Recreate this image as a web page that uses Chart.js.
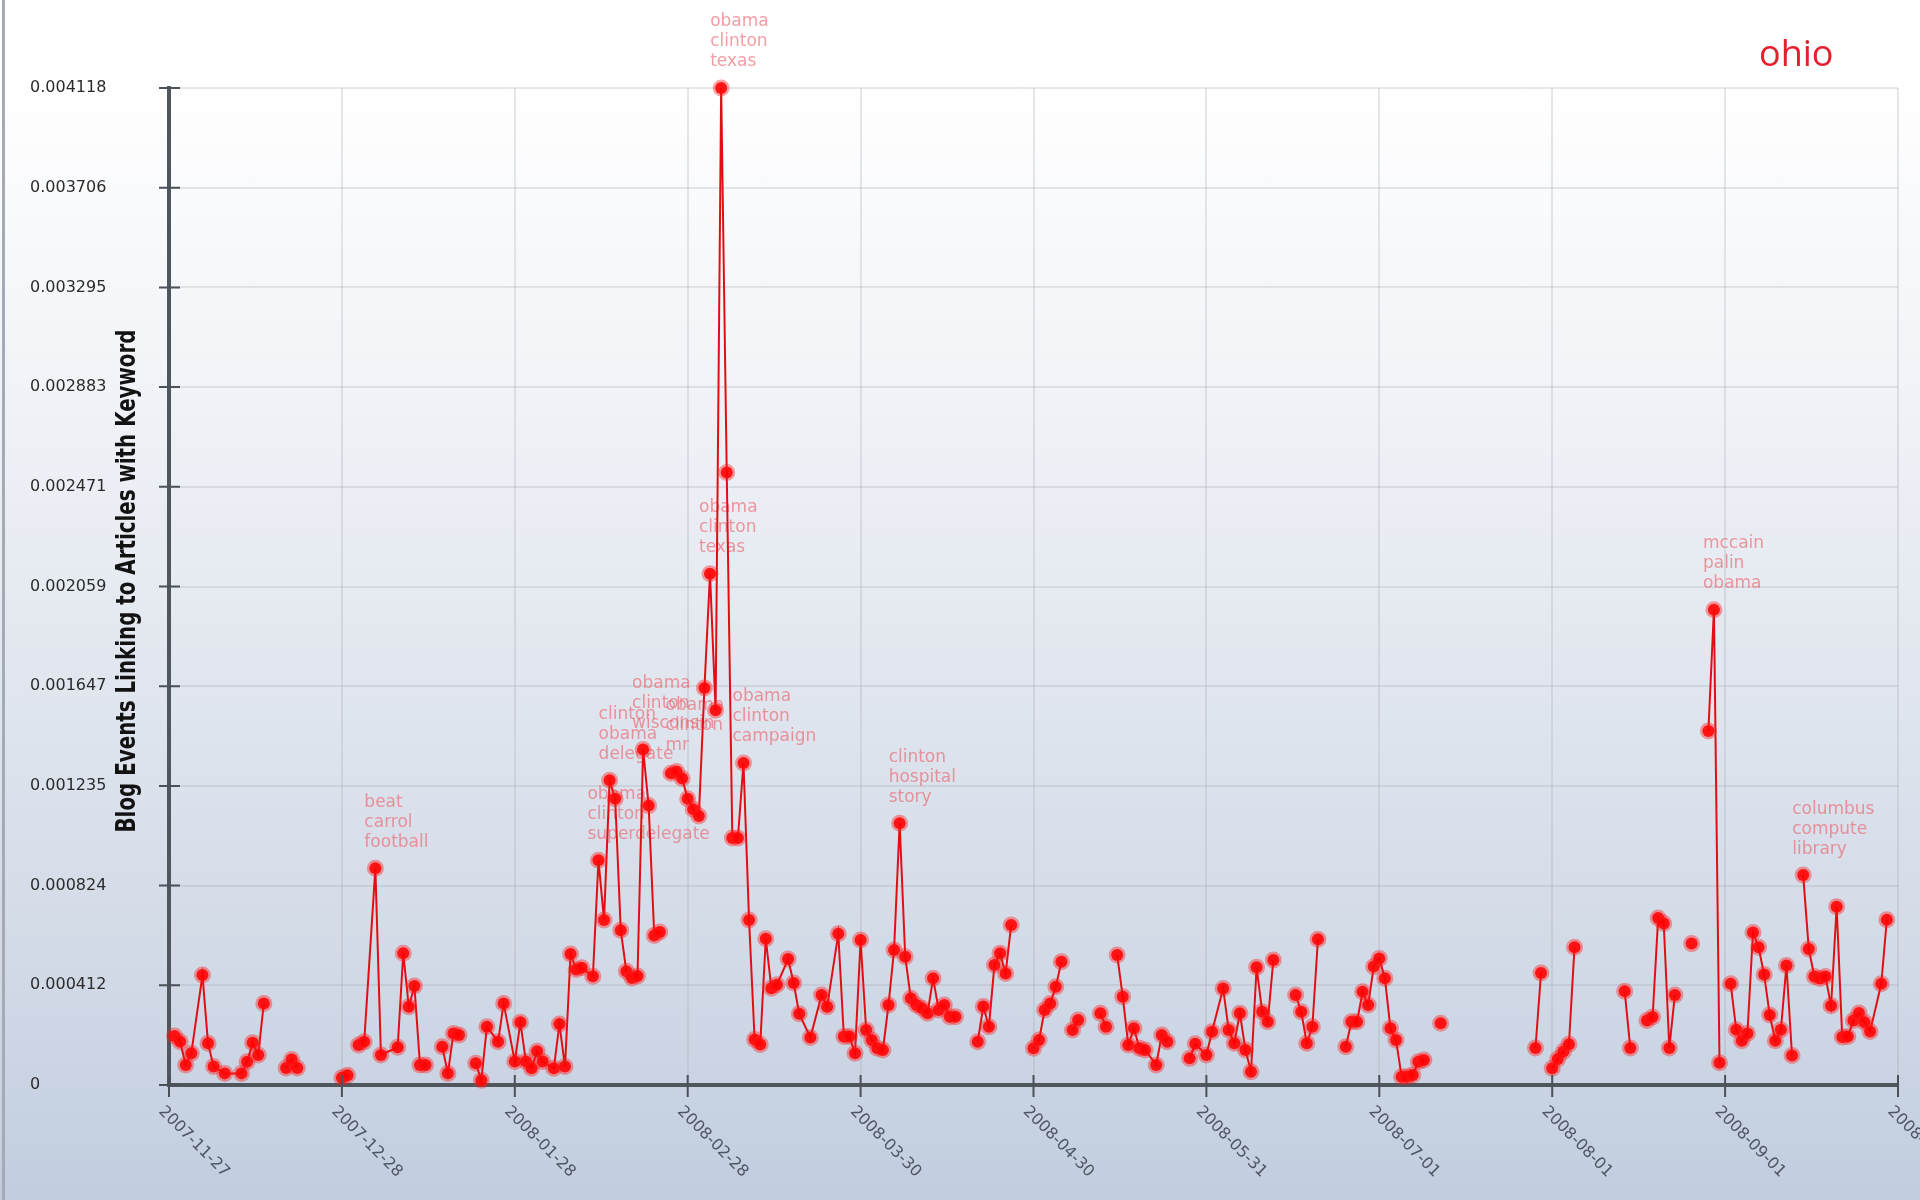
<!DOCTYPE html>
<html lang="en">
<head>
<meta charset="utf-8">
<title>ohio</title>
<style>
  html, body { margin: 0; padding: 0; }
  body {
    width: 1920px; height: 1200px; overflow: hidden;
    background: linear-gradient(180deg, #ffffff 0%, #ffffff 7%, #f2f4f8 30%, #e2e7ef 55%, #d2dae7 80%, #c1cddf 100%);
  }
  #wrap { position: relative; width: 1920px; height: 1200px; }
  #edge { position: absolute; left: 2px; top: 0; width: 3px; height: 1200px; background: #a4abb5; }
  canvas { position: absolute; left: 0; top: 0; }
</style>
</head>
<body>
<div id="wrap">
  <div id="edge"></div>
  <canvas id="chart" width="1920" height="1200"></canvas>
</div>
<script src="https://cdn.jsdelivr.net/npm/chart.js"></script>
<script>
// keyword and axis texts
const keyword = 'ohio';
const yAxisTitle = 'Blog Events Linking to Articles with Keyword';

// x axis: days since 2007-11-27
const xTickDays = [0, 31, 62, 93, 124, 155, 186, 217, 248, 279, 310];
const xTickLabels = ['2007-11-27', '2007-12-28', '2008-01-28', '2008-02-28', '2008-03-30',
  '2008-04-30', '2008-05-31', '2008-07-01', '2008-08-01', '2008-09-01', '2008-10-02'];

// y axis
const yMax = 0.0041182;
const yTickLabels = ['0', '0.000412', '0.000824', '0.001235', '0.001647', '0.002059',
  '0.002471', '0.002883', '0.003295', '0.003706', '0.004118'];

// series (null = no data, breaks the line)
const days = [
  1, 2, 3, 4, 6, 7, 8, 10, 13, 14, 15, 16, 17, 19,
  21, 22, 23, 27,
  31, 32, 33,
  34, 35, 37, 38, 41, 42, 43, 44, 45, 46, 47,
  49, 50, 51, 52, 53,
  55, 56, 57, 59, 60, 62, 63, 64, 65, 66, 67, 69, 70, 71, 72, 73, 74, 76, 77, 78, 79, 80,
  81, 82, 83, 84, 85, 86, 87, 88, 89,
  90, 91, 92, 93, 94, 95, 96, 97, 98, 99, 100, 101, 102, 103, 104, 105, 106, 107, 108, 109,
  111, 112, 113, 115, 117, 118, 120, 121, 122, 123, 124, 125, 126, 127, 128, 129, 130,
  131, 132, 133, 134, 135, 136, 137, 138, 139, 140, 141, 143,
  145, 146, 147, 148, 149, 150, 151, 153,
  155, 156, 157, 158, 159, 160, 161,
  162, 163, 165,
  167, 168, 169,
  170, 171, 172, 173, 174, 175, 177, 178, 179, 181,
  183, 184, 186, 187, 189, 190, 191, 192, 193, 194, 195, 196, 197, 198, 200,
  202, 203, 204, 205, 206, 208,
  211, 212, 213, 214, 215, 216, 217, 218, 219, 220, 221, 222, 223, 224, 225, 226,
  228, 236,
  245, 246, 247,
  248, 249, 250, 251, 252, 256,
  261, 262, 263,
  265, 266, 267, 268, 269, 270, 271,
  273, 274,
  276, 277, 278, 279,
  280, 281, 282, 283, 284, 285, 286, 287, 288, 289, 290, 291, 292,
  293, 294, 295, 296, 297, 298, 299, 300, 301, 302, 303, 304, 305, 307, 308
];
const values = [
  0.000202, 0.000179, 0.000083, 0.000131, 0.000454, 0.000172, 0.000076, 0.000048, 0.000048, 0.000096, 0.000175, 0.000124, 0.000337, null,
  0.00007, 0.000105, 0.00007, null,
  0.00003, 0.00004, null,
  0.000165, 0.000179, 0.000895, 0.000124, 0.000156, 0.000544, 0.000323, 0.000409, 0.000083, 0.000083, null,
  0.000158, 0.000048, 0.000213, 0.000207, null,
  0.00009, 0.00002, 0.000241, 0.000179, 0.000337, 0.000097, 0.000259, 0.000097, 0.000069, 0.000139, 0.000097, 0.000069, 0.000252, 0.000076, 0.000541, 0.000477, 0.000484, 0.000449, 0.000928, 0.000682, 0.001259, 0.001182,
  0.000639, 0.00047, 0.000442, 0.00045, 0.001386, 0.001154, 0.000618, 0.000632, null,
  0.001288, 0.001295, 0.001266, 0.001182, 0.001139, 0.001111, 0.00164, 0.002112, 0.001548, 0.004118, 0.00253, 0.00102, 0.00102, 0.00133, 0.000682, 0.000188, 0.000167, 0.000604, 0.0004, 0.000414,
  0.00052, 0.000421, 0.000294, 0.000196, 0.000372, 0.000323, 0.000625, 0.0002, 0.0002, 0.000131, 0.000599, 0.000227, 0.000186, 0.000152, 0.000145, 0.00033, 0.000558,
  0.001081, 0.00053, 0.000358, 0.00033, 0.000317, 0.000296, 0.000441, 0.00031, 0.00033, 0.000282, 0.000282, null,
  0.000179, 0.000324, 0.000241, 0.000496, 0.000544, 0.000461, 0.000661, null,
  0.000152, 0.000186, 0.00031, 0.000337, 0.000406, 0.000509, null,
  0.000227, 0.000268, null,
  0.000296, 0.000241, null,
  0.000537, 0.000365, 0.000165, 0.000234, 0.000152, 0.000145, 0.000083, 0.000207, 0.000179, null,
  0.00011, 0.00017, 0.000124, 0.00022, 0.000399, 0.000227, 0.000172, 0.000296, 0.000145, 0.000055, 0.000486, 0.000303, 0.000261, 0.000516, null,
  0.000372, 0.000303, 0.000172, 0.000241, 0.000602, null,
  0.000158, 0.000261, 0.000261, 0.000385, 0.00033, 0.000489, 0.000523, 0.000441, 0.000234, 0.000186, 0.000034, 0.000034, 0.000041, 0.000096, 0.000103, null,
  0.000255, null,
  0.000153, 0.000463, null,
  0.000069, 0.000107, 0.000138, 0.000168, 0.000569, null,
  0.000387, 0.000153, null,
  0.000266, 0.000281, 0.00069, 0.000667, 0.000153, 0.000372, null,
  0.000584, null,
  0.001462, 0.001963, 0.000092, null,
  0.000418, 0.000228, 0.000183, 0.000213, 0.00063, 0.000569, 0.000456, 0.000289, 0.000183, 0.000228, 0.000494, 0.000122, null,
  0.000867, 0.000562, 0.000448, 0.00044, 0.000448, 0.000327, 0.000736, 0.000198, 0.0002, 0.000266, 0.000297, 0.000259, 0.000221, 0.000418, 0.000683
];

// top words shown over peaks
const noteDays = [37, 77, 79, 85, 91, 97, 99, 103, 131, 277, 293];
const noteWords = [
  ['beat', 'carrol', 'football'],
  ['obama', 'clinton', 'superdelegate'],
  ['clinton', 'obama', 'delegate'],
  ['obama', 'clinton', 'wisconsin'],
  ['obama', 'clinton', 'mr'],
  ['obama', 'clinton', 'texas'],
  ['obama', 'clinton', 'texas'],
  ['obama', 'clinton', 'campaign'],
  ['clinton', 'hospital', 'story'],
  ['mccain', 'palin', 'obama'],
  ['columbus', 'compute', 'library']
];

const points = days.map((d, i) => ({ x: d, y: values[i] }));

const decor = {
  id: 'decor',
  beforeDatasetsDraw(chart) {
    const { ctx, scales: { x, y } } = chart;
    ctx.save();
    ctx.font = '17px "DejaVu Sans"';
    ctx.fillStyle = 'rgba(236, 90, 100, 0.6)';
    ctx.textAlign = 'left';
    ctx.textBaseline = 'middle';
    noteDays.forEach((d, i) => {
      const v = values[days.indexOf(d)];
      const px = x.getPixelForValue(d) - 11;
      const py = y.getPixelForValue(v) - 66;
      noteWords[i].forEach((w, k) => ctx.fillText(w, px, py + k * 20));
    });
    ctx.restore();
  },
  afterDraw(chart) {
    const { ctx, chartArea, scales: { x, y } } = chart;
    ctx.save();
    // tick marks crossing the axes
    ctx.strokeStyle = '#4b5159';
    ctx.lineWidth = 2;
    ctx.beginPath();
    y.ticks.forEach(t => {
      const py = y.getPixelForValue(t.value);
      ctx.moveTo(chartArea.left - 10, py);
      ctx.lineTo(chartArea.left + 11, py);
    });
    xTickDays.forEach(d => {
      const px = x.getPixelForValue(d);
      ctx.moveTo(px, chartArea.bottom - 10);
      ctx.lineTo(px, chartArea.bottom + 12);
    });
    ctx.stroke();

    // rotated date labels
    ctx.font = '16px "DejaVu Sans"';
    ctx.fillStyle = '#4f5562';
    ctx.textAlign = 'left';
    ctx.textBaseline = 'middle';
    xTickDays.forEach((d, i) => {
      const px = x.getPixelForValue(d);
      ctx.save();
      ctx.translate(px - 8, chartArea.bottom + 24);
      ctx.rotate(Math.PI / 4);
      ctx.fillText(xTickLabels[i], 0, 0);
      ctx.restore();
    });

    // y axis title, sits between the tick labels and the axis
    ctx.save();
    ctx.translate(128, 581);
    ctx.rotate(-Math.PI / 2);
    ctx.font = 'bold 26px "Liberation Sans Narrow", "DejaVu Sans Condensed", sans-serif';
    ctx.fillStyle = '#121212';
    ctx.textAlign = 'center';
    ctx.textBaseline = 'middle';
    const w = ctx.measureText(yAxisTitle).width;
    ctx.scale(503 / w, 1);
    ctx.fillText(yAxisTitle, 0, 0);
    ctx.restore();

    // keyword
    ctx.font = '36px "Open Sans"';
    ctx.fillStyle = '#e3202b';
    ctx.textAlign = 'left';
    ctx.textBaseline = 'alphabetic';
    ctx.fillText(keyword, 1759, 66);
    ctx.restore();
  }
};

const gridColor = 'rgba(165, 168, 175, 0.28)';

new Chart(document.getElementById('chart'), {
  type: 'line',
  data: {
    datasets: [{
      data: points,
      borderColor: 'rgb(225, 15, 20)',
      borderWidth: 2,
      pointRadius: 6,
      pointHoverRadius: 6,
      pointBackgroundColor: 'rgba(255, 0, 0, 0.92)',
      pointBorderColor: 'rgba(255, 25, 25, 0.4)',
      pointBorderWidth: 5,
      spanGaps: false,
      tension: 0,
      clip: false
    }]
  },
  options: {
    responsive: false,
    animation: false,
    devicePixelRatio: 1,
    layout: { padding: { top: 88, left: 30, right: 22, bottom: 0 } },
    plugins: { legend: { display: false }, tooltip: { enabled: false } },
    scales: {
      x: {
        type: 'linear',
        min: 0,
        max: 310,
        afterBuildTicks: s => { s.ticks = xTickDays.map(v => ({ value: v })); },
        afterFit: s => { s.height = 115; },
        ticks: { display: false },
        grid: { color: gridColor, lineWidth: 2, drawTicks: false },
        border: { color: '#50565e', width: 4 }
      },
      y: {
        min: 0,
        max: yMax,
        afterBuildTicks: s => { s.ticks = yTickLabels.map((l, i) => ({ value: yMax * i / 10 })); },
        afterFit: s => { s.width = 139; },
        ticks: {
          callback: (v, i) => yTickLabels[i],
          font: { family: '"DejaVu Sans"', size: 16 },
          color: '#2b2b2b',
          crossAlign: 'far'
        },
        grid: { color: gridColor, lineWidth: 2, drawTicks: false },
        border: { color: '#50565e', width: 4 }
      }
    }
  },
  plugins: [decor]
});
</script>
</body>
</html>
